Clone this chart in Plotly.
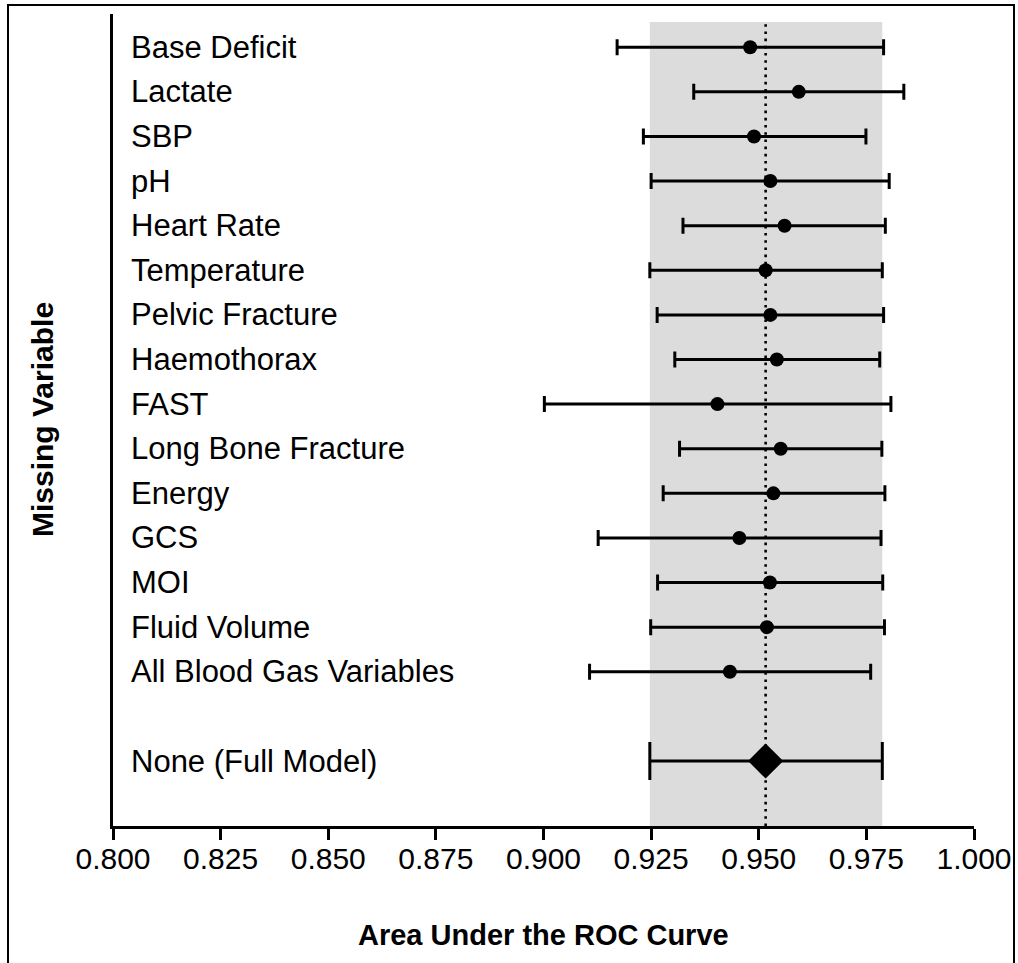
import plotly.graph_objects as go

# Leave-one-out model comparison: AUC with 95% CI when each variable is missing
variables = [
    "Base Deficit", "Lactate", "SBP", "pH", "Heart Rate", "Temperature",
    "Pelvic Fracture", "Haemothorax", "FAST", "Long Bone Fracture", "Energy",
    "GCS", "MOI", "Fluid Volume", "All Blood Gas Variables",
]
auc = [0.9480, 0.9593, 0.9489, 0.9527, 0.9560, 0.9516, 0.9527, 0.9542,
       0.9404, 0.9551, 0.9534, 0.9455, 0.9526, 0.9519, 0.9433]
ci_low = [0.9171, 0.9349, 0.9232, 0.9250, 0.9324, 0.9247, 0.9264, 0.9305,
          0.9002, 0.9316, 0.9278, 0.9127, 0.9265, 0.9249, 0.9107]
ci_high = [0.9790, 0.9837, 0.9749, 0.9803, 0.9794, 0.9787, 0.9790, 0.9781,
           0.9807, 0.9786, 0.9793, 0.9784, 0.9788, 0.9792, 0.9760]

full_label = "None (Full Model)"
full_auc = 0.9516
full_low = 0.9247
full_high = 0.9787

x_ticks = [0.800, 0.825, 0.850, 0.875, 0.900, 0.925, 0.950, 0.975, 1.000]

# row positions: full model at 0, a blank row, then the variables upward
n = len(variables)
var_pos = [n + 1 - i for i in range(n)]  # 16 .. 2
full_pos = 0

W, H = 1018, 963
ML, MR, MT, MB = 113, 44, 14, 137
PW, PH = W - ML - MR, H - MT - MB


def px_x(p):
    return (p - ML) / PW


def px_y(p):
    return (H - MB - p) / PH


FONT = "Liberation Sans, Arial, Helvetica, sans-serif"

fig = go.Figure()

fig.add_trace(go.Scatter(
    x=auc, y=var_pos, mode="markers",
    marker=dict(symbol="circle", size=14, color="black"),
    error_x=dict(type="data", symmetric=False,
                 array=[h - a for h, a in zip(ci_high, auc)],
                 arrayminus=[a - l for a, l in zip(auc, ci_low)],
                 color="black", thickness=3, width=8),
    showlegend=False, hoverinfo="skip",
))

fig.add_trace(go.Scatter(
    x=[full_auc], y=[full_pos], mode="markers",
    marker=dict(symbol="diamond", size=27, color="black"),
    error_x=dict(type="data", symmetric=False,
                 array=[full_high - full_auc],
                 arrayminus=[full_auc - full_low],
                 color="black", thickness=3, width=19),
    showlegend=False, hoverinfo="skip",
))

shade_top = px_y(22)
fig.add_shape(type="rect", xref="x", yref="paper",
              x0=full_low, x1=full_high, y0=0, y1=shade_top,
              fillcolor="#dcdcdc", line=dict(width=0), layer="below")
fig.add_shape(type="line", xref="x", yref="paper",
              x0=full_auc, x1=full_auc, y0=0, y1=shade_top,
              line=dict(color="black", width=2.6, dash="2.6px,4.6px"),
              layer="below")

# outer frame
fig.add_shape(type="rect", xref="paper", yref="paper",
              x0=px_x(8), x1=px_x(1014), y0=px_y(975), y1=px_y(5),
              line=dict(color="black", width=2), fillcolor="rgba(0,0,0,0)")

# row labels inside the plot, left aligned
for name, pos in zip(variables + [full_label], var_pos + [full_pos]):
    fig.add_annotation(x=0, xref="paper", y=pos, yref="y", text=name,
                       xanchor="left", yanchor="middle", xshift=16,
                       showarrow=False,
                       font=dict(family=FONT, size=31, color="black"))

fig.add_annotation(x=px_x(42), xref="paper", y=0.5, yref="paper",
                   text="<b>Missing Variable</b>", textangle=-90,
                   xanchor="center", yanchor="middle", showarrow=False,
                   font=dict(family=FONT, size=30, color="black"))
fig.add_annotation(x=0.5, xref="paper", y=px_y(935), yref="paper",
                   text="<b>Area Under the ROC Curve</b>",
                   xanchor="center", yanchor="middle", showarrow=False,
                   font=dict(family=FONT, size=29, color="black"))

fig.update_xaxes(range=[0.8, 1.0], tickvals=x_ticks, tickformat=".3f",
                 ticks="outside", ticklen=11, tickwidth=3, tickcolor="black",
                 ticklabelstandoff=-7,
                 showline=True, linewidth=3, linecolor="black",
                 showgrid=False, zeroline=False, automargin=False,
                 tickfont=dict(family=FONT, size=30, color="black"))
fig.update_yaxes(range=[-1.457, 16.745], showticklabels=False, ticks="",
                 showline=True, linewidth=3, linecolor="black",
                 showgrid=False, zeroline=False, automargin=False)

fig.update_layout(width=W, height=H,
                  margin=dict(l=ML, r=MR, t=MT, b=MB, autoexpand=False),
                  paper_bgcolor="white", plot_bgcolor="white")

fig.write_html("out.html")
